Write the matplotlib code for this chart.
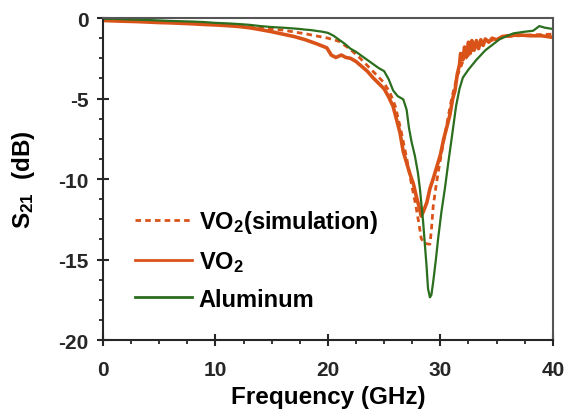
import numpy as np
import matplotlib.pyplot as plt
from matplotlib.ticker import MultipleLocator

plt.rcParams['font.family'] = ['Liberation Sans', 'DejaVu Sans']
plt.rcParams['font.weight'] = 'bold'
plt.rcParams['mathtext.fontset'] = 'custom'
plt.rcParams['mathtext.bf'] = 'Liberation Sans:bold'
plt.rcParams['mathtext.rm'] = 'Liberation Sans:bold'
plt.rcParams['mathtext.default'] = 'bf'
plt.rcParams['axes.unicode_minus'] = False

# Aluminum (measured)
f_al = [0, 1, 2, 3, 4, 5, 6, 7, 8, 9, 10, 11, 12, 13, 14, 15, 16, 17, 17.5, 18,
        18.5, 19, 19.5, 20, 20.5, 21, 21.5, 22, 22.5, 23, 23.5, 24, 24.5, 25,
        25.4, 25.8, 26.2, 26.7, 27.0, 27.2, 27.44, 27.73, 28.0, 28.18, 28.47,
        28.77, 28.9, 29.07, 29.2, 29.36, 29.6, 29.8, 30.1, 30.4, 30.7, 31.0,
        31.4, 31.7, 32.0, 32.5, 33.2, 34, 35.3, 36.5, 37.5, 38.25, 38.8, 39.3, 40]
s_al = [-0.05, -0.05, -0.08, -0.1, -0.12, -0.15, -0.18, -0.2, -0.22, -0.25, -0.3,
        -0.33, -0.37, -0.42, -0.5, -0.56, -0.6, -0.65, -0.68, -0.72, -0.75, -0.8,
        -0.85, -0.92, -1.1, -1.35, -1.6, -1.9, -2.1, -2.35, -2.6, -2.85, -3.1,
        -3.3, -3.8, -4.5, -4.85, -5.05, -5.7, -6.8, -7.7, -8.55, -9.6, -10.6,
        -12.7, -15.4, -16.8, -17.35, -17.2, -16.4, -15.0, -13.7, -12.0, -10.6,
        -9.0, -7.5, -5.45, -4.4, -3.7, -3.2, -2.6, -2.0, -1.3, -0.95, -0.85,
        -0.79, -0.5, -0.6, -0.68]

# VO2 (measured)
f_vo = [0, 1, 2, 3, 4, 5, 6, 7, 8, 9, 10, 11, 12, 13, 14, 15, 16, 17, 18, 19,
        19.9, 20.3, 20.7, 21.2, 21.6, 22, 22.5, 23, 23.5, 24, 24.5, 25, 25.4,
        25.8, 26.1, 26.4, 26.7, 27.0, 27.3, 27.6, 27.9, 28.1, 28.3, 28.5, 28.8,
        29.07, 29.4, 29.7, 30.0, 30.3, 30.6, 30.85, 31.1, 31.3, 31.5, 31.7, 31.8,
        32.0, 32.15, 32.3, 32.5, 32.65, 32.8, 33.0, 33.2, 33.4, 33.6, 33.8, 34.0,
        34.3, 34.6, 35, 35.5, 36, 37, 38, 39, 40]
s_vo = [-0.15, -0.18, -0.2, -0.22, -0.25, -0.28, -0.3, -0.33, -0.36, -0.4, -0.43,
        -0.47, -0.52, -0.6, -0.72, -0.85, -1.0, -1.15, -1.35, -1.6, -1.85, -2.3,
        -2.45, -2.3, -2.45, -2.5, -2.7, -3.0, -3.3, -3.7, -4.05, -4.4, -4.9,
        -5.5, -6.3, -7.1, -8.3, -9.0, -9.7, -10.3, -11.2, -11.7, -12.3, -12.0,
        -11.45, -10.6, -9.9, -9.2, -8.5, -7.5, -6.7, -6.0, -5.0, -4.5, -3.5,
        -2.9, -2.2, -2.6, -1.8, -2.4, -1.5, -2.2, -1.4, -2.0, -1.4, -1.9, -1.35,
        -1.7, -1.3, -1.5, -1.25, -1.35, -1.15, -1.1, -1.05, -1.1, -1.1, -1.2]

# VO2 (simulation)
f_sim = [0, 2, 4, 6, 8, 10, 12, 14, 16, 18, 20, 21, 22, 22.8, 23.5, 24.2, 24.9,
         25.5, 26, 26.5, 27, 27.4, 27.8, 28.1, 28.3, 28.6, 29.07, 29.2, 29.36,
         29.6, 29.8, 30.2, 30.6, 31, 31.5, 32, 33, 34, 35, 36, 38, 40]
s_sim = [-0.12, -0.15, -0.2, -0.25, -0.3, -0.36, -0.45, -0.6, -0.75, -0.98, -1.25,
         -1.45, -1.95, -2.45, -2.95, -3.45, -3.95, -4.6, -5.5, -7.0, -8.7, -10.2,
         -11.6, -12.8, -13.7, -14.0, -14.05, -13.2, -11.7, -10.5, -9.6, -8.0,
         -6.5, -5.0, -3.6, -2.7, -1.9, -1.5, -1.3, -1.15, -1.05, -1.0]

orange = '#D95319'
green = '#2A6E1E'

fig = plt.figure(figsize=(5.67, 4.14), dpi=100)
ax = fig.add_axes([0.1817, 0.1763, 0.7933, 0.7777])

l2, = ax.plot(f_vo, s_vo, color=orange, lw=2.6, label='VO$_2$')
l1, = ax.plot(f_sim, s_sim, color=orange, lw=2, ls=(0, (2, 1.5)), label='VO$_2$(simulation)')
l3, = ax.plot(f_al, s_al, color=green, lw=1.6, label='Aluminum')

ax.set_xlim(0, 40)
ax.set_ylim(-20, 0)
ax.set_xticks([0, 10, 20, 30, 40])
ax.set_yticks([-20, -15, -10, -5, 0])
ax.xaxis.set_minor_locator(MultipleLocator(2.5))
ax.yaxis.set_minor_locator(MultipleLocator(1.25))
ax.tick_params(which='major', direction='inout', length=9, width=1.5, labelsize=15,
               pad=6, colors='#262626')
ax.tick_params(axis='x', which='major', pad=10)
ax.tick_params(which='minor', direction='out', length=3, width=1.3, colors='#262626')
for lab in ax.get_xticklabels() + ax.get_yticklabels():
    lab.set_fontweight('bold')
for sp in ax.spines.values():
    sp.set_linewidth(1.5)
    sp.set_color('#262626')
ax.spines['top'].set_color('#555555')
ax.spines['right'].set_color('#555555')

ax.set_xlabel('Frequency (GHz)', fontsize=17.5, fontweight='bold', labelpad=4)
ax.set_ylabel('S$_{21}$  (dB)', fontsize=17.5, fontweight='bold', labelpad=15)

leg = ax.legend(handles=[l1, l2, l3], loc='center left', bbox_to_anchor=(0.071, 0.25),
                frameon=False, handlelength=2.4, handletextpad=0.3,
                labelspacing=0.58, borderpad=0, borderaxespad=0,
                prop={'weight': 'bold', 'size': 17})
for h in leg.legend_handles:
    h.set_linewidth(2)

plt.savefig('out.png', dpi=100)
